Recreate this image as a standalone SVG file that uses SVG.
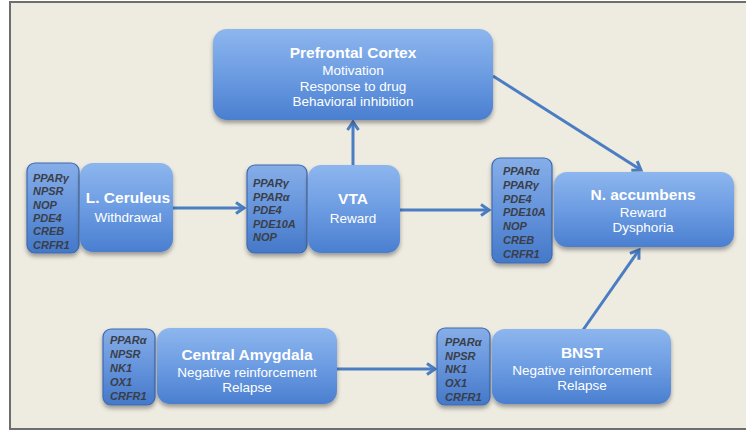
<svg xmlns="http://www.w3.org/2000/svg" width="746" height="431" viewBox="0 0 746 431">
<defs>
<linearGradient id="gMain" x1="0" y1="0" x2="0" y2="1">
<stop offset="0" stop-color="#8DB6EE"/>
<stop offset="0.5" stop-color="#6C9CE2"/>
<stop offset="1" stop-color="#4A7FD0"/>
</linearGradient>
<linearGradient id="gGene" x1="0" y1="0" x2="0" y2="1">
<stop offset="0" stop-color="#86AEE8"/>
<stop offset="0.5" stop-color="#6594DC"/>
<stop offset="1" stop-color="#4478C8"/>
</linearGradient>
<filter id="sh" x="-10%" y="-10%" width="120%" height="130%">
<feDropShadow dx="0" dy="3" stdDeviation="2" flood-color="#000" flood-opacity="0.35"/>
</filter>
<marker id="ah" viewBox="0 0 14 14" refX="11" refY="7" markerWidth="14" markerHeight="14" markerUnits="userSpaceOnUse" orient="auto">
<path d="M3,1.5 L11,7 L3,12.5" fill="none" stroke="#4A7DC2" stroke-width="3" stroke-linejoin="miter"/>
</marker>
</defs>
<style>
.main{fill:url(#gMain);filter:url(#sh);}
.gene{fill:url(#gGene);stroke:#3D6BB0;stroke-width:1.2;filter:url(#sh);}
.t{font-family:"Liberation Sans",Arial,sans-serif;fill:#fff;text-anchor:middle;}
.tb{font-weight:bold;font-size:15.5px;}
.ts{font-size:13.5px;}
.g{font-family:"Liberation Sans",Arial,sans-serif;font-weight:bold;font-style:italic;font-size:11px;fill:#3A3E48;}
.c{fill:none;stroke:#4A7DC2;stroke-width:3;marker-end:url(#ah);}
</style>
<rect x="0" y="0" width="746" height="431" fill="#fff"/>
<rect x="10" y="2" width="745" height="427" fill="#EEEBE1" stroke="#6E6E6E" stroke-width="2"/>

<g id="connectors">
<line class="c" x1="173" y1="208" x2="244" y2="208"/>
<line class="c" x1="400" y1="210" x2="489" y2="210"/>
<line class="c" x1="353" y1="165" x2="353" y2="122"/>
<line class="c" x1="493" y1="76" x2="641" y2="170"/>
<line class="c" x1="337" y1="369" x2="435" y2="369"/>
<line class="c" x1="583" y1="330" x2="639" y2="250"/>
</g>

<g id="pfc">
<rect class="main" x="213" y="29" width="280" height="91" rx="14"/>
<text class="t tb" x="353" y="58">Prefrontal Cortex</text>
<text class="t ts" x="353" y="75">Motivation</text>
<text class="t ts" x="353" y="90.5">Response to drug</text>
<text class="t ts" x="353" y="106">Behavioral inhibition</text>
</g>

<g id="lc-genes">
<rect class="gene" x="27" y="163" width="52" height="90" rx="8"/>
<text class="g" x="33" y="182">PPARγ</text>
<text class="g" x="33" y="195.3">NPSR</text>
<text class="g" x="33" y="208.6">NOP</text>
<text class="g" x="33" y="222">PDE4</text>
<text class="g" x="33" y="235.3">CREB</text>
<text class="g" x="33" y="248.6">CRFR1</text>
</g>
<g id="lc">
<rect class="main" x="80" y="163" width="93" height="89" rx="13"/>
<text class="t tb" x="128" y="203">L. Ceruleus</text>
<text class="t ts" x="128" y="222">Withdrawal</text>
</g>

<g id="vta-genes">
<rect class="gene" x="247" y="165" width="60" height="88" rx="8"/>
<text class="g" x="253" y="187">PPARγ</text>
<text class="g" x="253" y="200.5">PPARα</text>
<text class="g" x="253" y="214">PDE4</text>
<text class="g" x="253" y="227.5">PDE10A</text>
<text class="g" x="253" y="241">NOP</text>
</g>
<g id="vta">
<rect class="main" x="308" y="165" width="92" height="88" rx="13"/>
<text class="t tb" x="353" y="204">VTA</text>
<text class="t ts" x="353" y="223">Reward</text>
</g>

<g id="nacc-genes">
<rect class="gene" x="492" y="158" width="60" height="105" rx="8"/>
<text class="g" x="503" y="175">PPARα</text>
<text class="g" x="503" y="188.8">PPARγ</text>
<text class="g" x="503" y="202.6">PDE4</text>
<text class="g" x="503" y="216.4">PDE10A</text>
<text class="g" x="503" y="230.2">NOP</text>
<text class="g" x="503" y="244">CREB</text>
<text class="g" x="503" y="257.8">CRFR1</text>
</g>
<g id="nacc">
<rect class="main" x="554" y="172" width="180" height="75" rx="13"/>
<text class="t tb" x="643" y="200">N. accumbens</text>
<text class="t ts" x="643" y="216.5">Reward</text>
<text class="t ts" x="643" y="232">Dysphoria</text>
</g>

<g id="ca-genes">
<rect class="gene" x="103" y="329" width="52" height="76" rx="8"/>
<text class="g" x="110" y="344">PPARα</text>
<text class="g" x="110" y="358">NPSR</text>
<text class="g" x="110" y="372">NK1</text>
<text class="g" x="110" y="386">OX1</text>
<text class="g" x="110" y="400">CRFR1</text>
</g>
<g id="ca">
<rect class="main" x="157" y="328" width="180" height="76" rx="13"/>
<text class="t tb" x="247" y="360">Central Amygdala</text>
<text class="t ts" x="247" y="376.5">Negative reinforcement</text>
<text class="t ts" x="247" y="392">Relapse</text>
</g>

<g id="bnst-genes">
<rect class="gene" x="437" y="328" width="53" height="77" rx="8"/>
<text class="g" x="445" y="346">PPARα</text>
<text class="g" x="445" y="359.7">NPSR</text>
<text class="g" x="445" y="373.4">NK1</text>
<text class="g" x="445" y="387">OX1</text>
<text class="g" x="445" y="401">CRFR1</text>
</g>
<g id="bnst">
<rect class="main" x="492" y="329" width="179" height="75" rx="13"/>
<text class="t tb" x="582" y="358">BNST</text>
<text class="t ts" x="582" y="374.5">Negative reinforcement</text>
<text class="t ts" x="582" y="390">Relapse</text>
</g>
</svg>
